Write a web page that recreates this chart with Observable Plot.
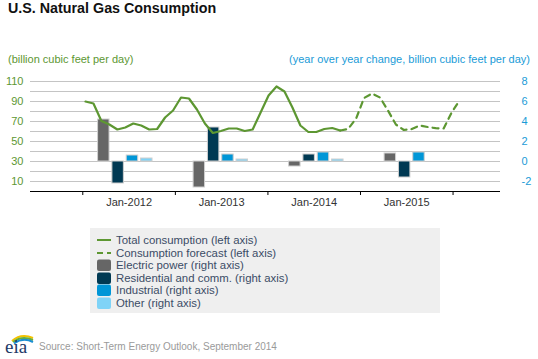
<!DOCTYPE html>
<html><head><meta charset="utf-8">
<script src="https://cdn.jsdelivr.net/npm/d3@7"></script>
<script src="https://cdn.jsdelivr.net/npm/@observablehq/plot@0.6"></script>
<style>
body{margin:0;background:#fff;font-family:"Liberation Sans",Arial,sans-serif;}
#wrap{position:relative;width:538px;height:359px;overflow:hidden;background:#fff;}
.abs{position:absolute;white-space:nowrap;}
#title{left:8px;top:0px;font-size:14.3px;font-weight:bold;color:#111;}
#ltitle{left:8px;top:53px;font-size:11px;color:#5D9732;}
#rtitle{right:8px;top:53px;font-size:11px;color:#1a9bd7;}
#chart{left:0;top:70px;}
#legend{left:90px;top:228px;width:350px;height:85px;background:#efefef;}
.row{position:absolute;left:6px;height:12px;font-size:11.4px;color:#3b4c66;line-height:12px;white-space:nowrap;}
.row svg{position:absolute;left:0;top:0;}
.row span{position:absolute;left:20px;top:0;}
#source{left:39px;top:341px;font-size:10px;color:#9a9a9a;}
#logo{left:3px;top:332px;}
</style></head>
<body><div id="wrap">
<div id="title" class="abs">U.S. Natural Gas Consumption</div>
<div id="ltitle" class="abs">(billion cubic feet per day)</div>
<div id="rtitle" class="abs">(year over year change, billion cubic feet per day)</div>
<div id="chart" class="abs"></div>
<div id="legend" class="abs"></div>
<svg id="logo" class="abs" width="34" height="24" viewBox="0 0 34 24">
  <path d="M9 9 Q18 1 30 6" fill="none" stroke="#f2c200" stroke-width="2"/>
  <path d="M10 10 Q19 3 30 8" fill="none" stroke="#6aae3c" stroke-width="2"/>
  <path d="M11 11.5 Q20 5 30 10" fill="none" stroke="#1b8fd2" stroke-width="2"/>
  <text x="2" y="21" font-family="Liberation Serif, DejaVu Serif, serif" font-size="19" fill="#1d3a66">eia</text>
</svg>
<div id="source" class="abs">Source: Short-Term Energy Outlook, September 2014</div>
</div>
<script>
// ---- data ----
// monthly total consumption, Jan 2012 .. Sep 2014 (billion cubic feet per day)
const totalValues = [
  90, 88, 70.5, 67, 62, 64, 68, 66, 62, 62.5, 74, 81,
  94, 93, 82, 68, 58.5, 60.5, 63, 63, 60.5, 62, 79, 96,
  105, 100, 84, 66, 59.5, 59.5, 62.5, 63.5, 61
];
// forecast, Sep 2014 .. Dec 2015
const forecastValues = [61, 62.5, 73, 93.5, 98, 94, 81, 67, 61.5, 62.5, 66, 64.5, 63.3, 63, 79, 91];
const forecastStart = 32; // month index of Sep 2014 (Jan 2012 = 0)

// annual year-over-year change (right axis)
const years = [2012, 2013, 2014, 2015];
const electricPower = [4.2, -2.6, -0.5, 0.8];
const residentialComm = [-2.2, 3.4, 0.7, -1.6];
const industrial = [0.6, 0.7, 0.9, 0.9];
const other = [0.3, 0.2, 0.2, 0.0];

const seriesNames = ["Electric power", "Residential and comm.", "Industrial", "Other"];
const seriesColors = ["#666666", "#003953", "#0096D7", "#7fd3f7"];

const leftTicks = [110, 90, 70, 50, 30, 10];
const gridValues = [10, 20, 30, 40, 50, 60, 70, 80, 90, 100, 110];
const rightTicks = [8, 6, 4, 2, 0, -2];
const xLabels = ["Jan-2012", "Jan-2013", "Jan-2014", "Jan-2015"];
const xTickYears = [2012, 2013, 2014, 2015, 2016];

const legendLabels = [
  "Total consumption (left axis)",
  "Consumption forecast (left axis)",
  "Electric power (right axis)",
  "Residential and comm. (right axis)",
  "Industrial (right axis)",
  "Other (right axis)"
];

// ---- derived tables ----
const green = "#5D9732";
const totalData = totalValues.map((v, i) => ({m: i, v}));
const forecastData = forecastValues.map((v, i) => ({m: forecastStart + i, v}));
const seriesVals = [electricPower, residentialComm, industrial, other];
const bars = [];
years.forEach((y, yi) => {
  seriesVals.forEach((arr, si) => {
    bars.push({year: y, yi, si, name: seriesNames[si], value: arr[yi]});
  });
});
const barOffsets = [-2.7, -0.9, 0.9, 2.7];
const barHalf = 0.72;
const groupCenter = yi => 12 * yi + 5;
const toLeft = r => 30 + 10 * r;           // right-axis value -> left-axis units
const tickPos = yr => -0.34 + 11.63 * (yr - 2012);  // category-axis positions
const labelPos = i => tickPos(2012 + i) + 11.63 / 2;

const chart = Plot.plot({
  width: 538,
  height: 151,
  marginTop: 11,
  marginBottom: 30,
  marginLeft: 30,
  marginRight: 38,
  x: {domain: [-6.91, 52.14], axis: null, label: null},
  y: {domain: [0, 110], axis: null, label: null},
  style: {fontFamily: "Liberation Sans, Arial, sans-serif", fontSize: "11px", background: "transparent", overflow: "visible"},
  marks: [
    Plot.ruleY(gridValues, {stroke: "#c4c4c4", strokeWidth: 1}),
    Plot.rectY(bars.filter(d => d.value !== 0), {
      x1: d => groupCenter(d.yi) + barOffsets[d.si] - barHalf,
      x2: d => groupCenter(d.yi) + barOffsets[d.si] + barHalf,
      y1: d => toLeft(0),
      y2: d => toLeft(d.value),
      fill: d => seriesColors[d.si],
      stroke: "#cfcfcf",
      strokeWidth: 1
    }),
    Plot.line(totalData, {x: "m", y: "v", stroke: green, strokeWidth: 2.2}),
    Plot.line(forecastData, {x: "m", y: "v", stroke: green, strokeWidth: 2.2, strokeDasharray: "6,5"}),
    Plot.ruleY([0], {stroke: "#000", strokeWidth: 1}),
    Plot.axisX(xTickYears.map(tickPos), {anchor: "bottom", tickSize: 4, tickFormat: () => "", stroke: "#000", label: null}),
    Plot.text(xLabels, {x: (d, i) => labelPos(i), frameAnchor: "bottom", dy: 14, text: d => d, fill: "#333"}),
    Plot.text(leftTicks, {y: d => d, text: d => String(d), frameAnchor: "left", textAnchor: "end", dx: -7, fill: green}),
    Plot.text(rightTicks, {y: d => toLeft(d), text: d => String(d), frameAnchor: "right", textAnchor: "start", dx: 21, fill: "#1a9bd7"})
  ]
});
document.getElementById("chart").appendChild(chart);

// legend
const legend = document.getElementById("legend");
legendLabels.forEach((lab, i) => {
  const row = document.createElement("div");
  row.className = "row";
  row.style.top = (6 + i * 12.6) + "px";
  let sw;
  if (i === 0) sw = `<svg width="16" height="12"><line x1="1" x2="15" y1="6" y2="6" stroke="${green}" stroke-width="2"/></svg>`;
  else if (i === 1) sw = `<svg width="16" height="12"><line x1="1" x2="15" y1="6" y2="6" stroke="${green}" stroke-width="2" stroke-dasharray="6,4"/></svg>`;
  else sw = `<svg width="16" height="12"><rect x="1" y="0.5" width="14" height="11.5" rx="2" fill="${seriesColors[i - 2]}"/></svg>`;
  row.innerHTML = sw + `<span>${lab}</span>`;
  legend.appendChild(row);
});
</script>
</body></html>
